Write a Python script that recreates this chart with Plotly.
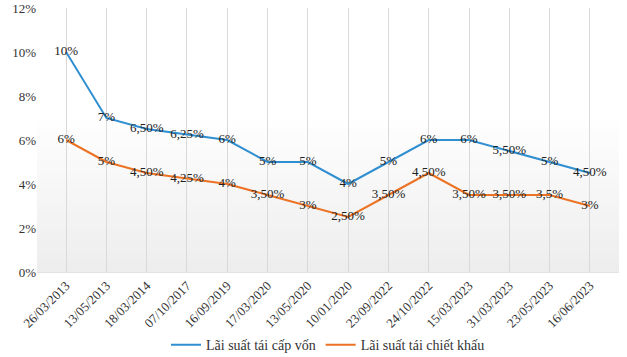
import plotly.graph_objects as go

dates = ["26/03/2013", "13/05/2013", "18/03/2014", "07/10/2017", "16/09/2019",
         "17/03/2020", "13/05/2020", "10/01/2020", "23/09/2022", "24/10/2022",
         "15/03/2023", "31/03/2023", "23/05/2023", "16/06/2023"]
refinance = [10, 7, 6.5, 6.25, 6, 5, 5, 4, 5, 6, 6, 5.5, 5, 4.5]
refinance_labels = ["10%", "7%", "6,50%", "6,25%", "6%", "5%", "5%", "4%", "5%",
                    "6%", "6%", "5,50%", "5%", "4,50%"]
discount = [6, 5, 4.5, 4.25, 4, 3.5, 3, 2.5, 3.5, 4.5, 3.5, 3.5, 3.5, 3]
discount_labels = ["6%", "5%", "4,50%", "4,25%", "4%", "3,50%", "3%", "2,50%", "3,50%",
                   "4,50%", "3,50%", "3,50%", "3,5%", "3%"]
y_ticks = [0, 2, 4, 6, 8, 10, 12]
y_tick_text = ["0%", "2%", "4%", "6%", "8%", "10%", "12%"]

FONT = "Liberation Serif, Times New Roman, serif"

fig = go.Figure()

# subtle vertical gradient in plot background (white at top -> light grey at bottom)
n_bands = 40
for i in range(n_bands):
    y0 = i / n_bands
    y1 = (i + 1) / n_bands
    t = (i + 0.5) / n_bands
    g = int(round(237 + (255 - 237) * min(1.0, t / 0.6)))
    fig.add_shape(type="rect", xref="x domain", yref="y domain",
                  x0=0, x1=1, y0=y0, y1=y1 + 0.002,
                  fillcolor=f"rgb({g},{g},{g})", line_width=0, layer="below")

fig.add_trace(go.Scatter(
    x=dates, y=refinance, mode="lines+text", name="Lãi suất tái cấp vốn",
    line=dict(color="#2F8FD0", width=2),
    text=refinance_labels, textposition="middle center",
    textfont=dict(family=FONT, size=13, color="#222222"),
    cliponaxis=False,
))
fig.add_trace(go.Scatter(
    x=dates, y=discount, mode="lines+text", name="Lãi suất tái chiết khấu",
    line=dict(color="#EC7224", width=2),
    text=discount_labels, textposition="middle center",
    textfont=dict(family=FONT, size=13, color="#222222"),
    cliponaxis=False,
))

fig.update_layout(
    width=627, height=357,
    margin=dict(l=37, r=8, t=8, b=85, autoexpand=False),
    paper_bgcolor="white",
    plot_bgcolor="rgba(0,0,0,0)",
    font=dict(family=FONT, size=13, color="#333333"),
    showlegend=True,
    legend=dict(orientation="h", x=0.5, xanchor="center", y=-0.277, yanchor="middle",
                font=dict(family=FONT, size=14, color="#333333"),
                itemwidth=30, tracegroupgap=0),
)
fig.update_xaxes(
    type="category", tickangle=-45, showgrid=True, gridcolor="#d9d9d9", gridwidth=1,
    showline=True, linecolor="#e3e3e3", linewidth=1,
    zeroline=False, ticks="", automargin=False,
    tickfont=dict(family=FONT, size=13, color="#333333"),
)
fig.update_yaxes(
    range=[0, 12], tickvals=y_ticks, ticktext=y_tick_text, showgrid=False,
    zeroline=False, showline=False, ticks="", automargin=False,
    tickfont=dict(family=FONT, size=13, color="#333333"),
)

fig.write_html("out.html", config={"displayModeBar": False},
               post_script="document.body.style.margin='0';document.body.style.overflow='hidden';")
